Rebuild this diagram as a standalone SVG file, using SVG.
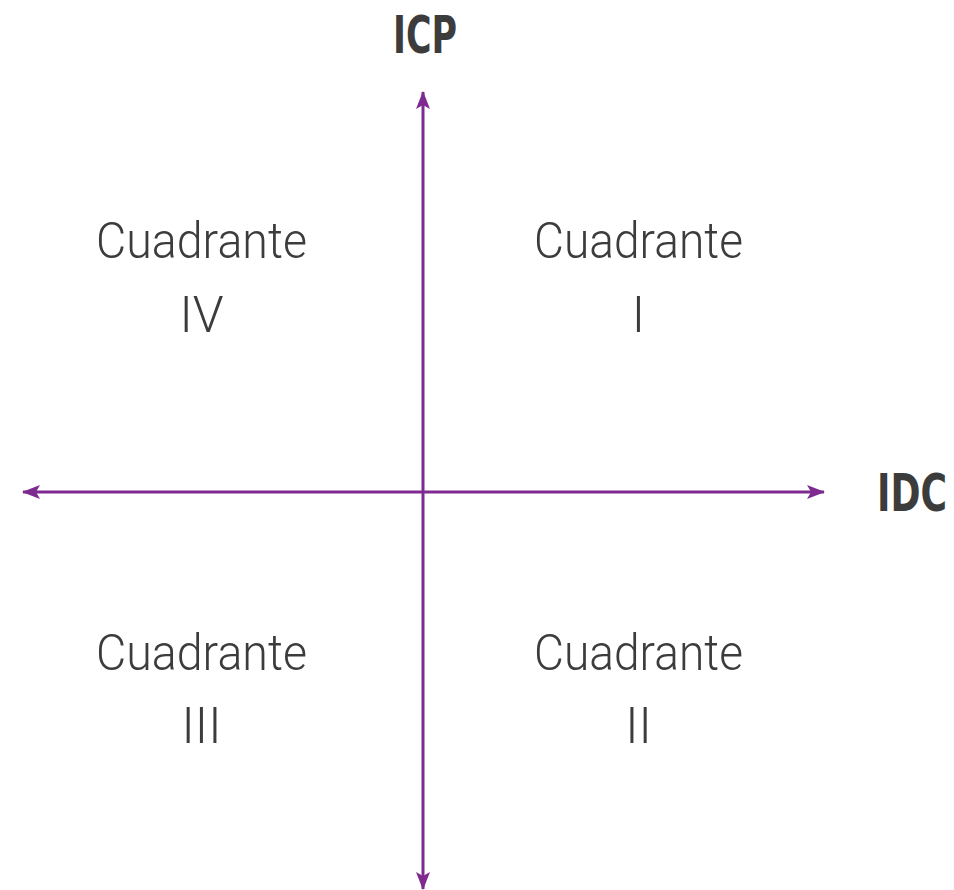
<svg xmlns="http://www.w3.org/2000/svg" width="954" height="890" viewBox="0 0 954 890">
<defs>
<style>
.axis{stroke:#7f2a90;stroke-width:3;fill:none}
.q{font-family:Roboto,"Liberation Sans",sans-serif;font-weight:300;font-size:50px;fill:#3c3c3c;text-anchor:middle}
.lbl{font-family:"DejaVu Sans Condensed","DejaVu Sans",sans-serif;font-weight:bold;font-size:52px;fill:#3c3c3c;text-anchor:middle}
</style>
<marker id="ah" viewBox="0 0 18 14" refX="17" refY="7" markerWidth="18" markerHeight="14" markerUnits="userSpaceOnUse" orient="auto">
<path d="M0,0 L18,7 L0,14 L4,7 Z" fill="#7f2a90"/>
</marker>
</defs>
<rect width="954" height="890" fill="#fff"/>
<g id="connectors">
<line class="axis" x1="423" y1="492" x2="423" y2="92" marker-end="url(#ah)"/>
<line class="axis" x1="423" y1="492" x2="423" y2="889" marker-end="url(#ah)"/>
<line class="axis" x1="423" y1="492" x2="23" y2="492" marker-end="url(#ah)"/>
<line class="axis" x1="423" y1="492" x2="824" y2="492" marker-end="url(#ah)"/>
</g>
<g id="icp"><text class="lbl" x="425" y="53" textLength="64" lengthAdjust="spacingAndGlyphs">ICP</text></g>
<g id="idc" transform="translate(912,511) scale(1,1.15)"><text class="lbl" x="0" y="0" style="font-size:45px" textLength="70" lengthAdjust="spacingAndGlyphs">IDC</text></g>
<g id="q4"><text class="q" x="201.5" y="258" textLength="211" lengthAdjust="spacingAndGlyphs">Cuadrante</text><text class="q" x="201.5" y="332">IV</text></g>
<g id="q1"><text class="q" x="638.5" y="258" textLength="209" lengthAdjust="spacingAndGlyphs">Cuadrante</text><text class="q" x="638.5" y="332">I</text></g>
<g id="q3"><text class="q" x="201.5" y="670" textLength="211" lengthAdjust="spacingAndGlyphs">Cuadrante</text><text class="q" x="201.5" y="743">III</text></g>
<g id="q2"><text class="q" x="638.5" y="670" textLength="209" lengthAdjust="spacingAndGlyphs">Cuadrante</text><text class="q" x="638.5" y="743">II</text></g>
</svg>
